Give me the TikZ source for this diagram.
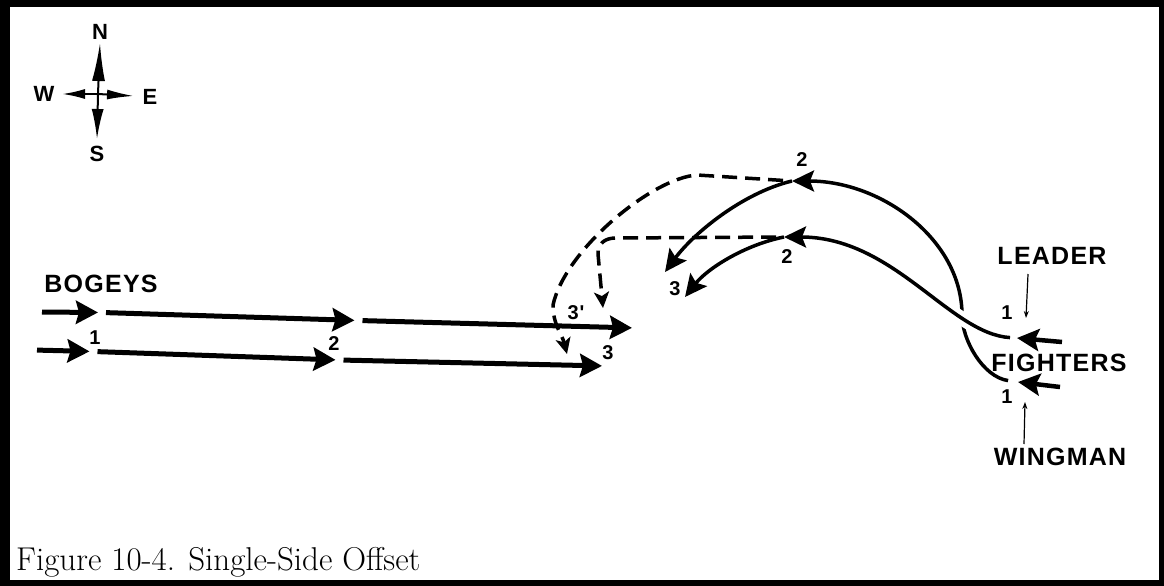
\documentclass[tikz,border=0pt]{standalone}
\usepackage{fontspec}
\newfontfamily\lblfont[LetterSpace=5]{Liberation Sans}
\usepackage{tikz}
\usetikzlibrary{arrows.meta,positioning,calc}

\begin{document}
\begin{tikzpicture}[x=1pt, y=-1pt, line join=round,
      lbl/.style={font=\lblfont\bfseries\fontsize{25}{25}\selectfont, inner sep=0pt},
      num/.style={font=\lblfont\bfseries\fontsize{20}{20}\selectfont, inner sep=0pt},
      pole/.style={font=\lblfont\bfseries\fontsize{22}{22}\selectfont, inner sep=0pt},
      needle/.style={line width=2pt},
      bogey/.style={line width=5pt, shorten >=4pt, shorten <=4pt, -{Stealth[length=22pt,width=23pt,inset=3pt]}},
      jet/.style={line width=3.5pt, -{Stealth[length=22pt,width=21pt,inset=4pt]}},
      fighter/.style={line width=4.5pt, -{Stealth[length=22pt,width=22pt,inset=4pt]}},
      feint/.style={line width=3.5pt, dash pattern=on 15pt off 8pt, -{Stealth[length=16pt,width=15pt,inset=4pt]}},
      hint/.style={line width=1.2pt, -{Stealth[length=7pt,width=5pt]}}]
      \fill[black] (0,0) rectangle (1164,586);
      \fill[white] (10,7) rectangle (1159,580);

      \coordinate (hub) at (98,94);
      \coordinate (tipN) at (100,43);
      \coordinate (tipS) at (97,139);
      \coordinate (tipE) at (134,96);
      \coordinate (tipW) at (62,94);
      \draw[needle,-{Latex[length=38pt,width=13pt]}] (hub) -- (tipN);
      \draw[needle,-{Latex[length=30pt,width=12pt]}] (hub) -- (tipS);
      \draw[needle,-{Latex[length=27pt,width=10pt]}] (hub) -- (tipE);
      \draw[needle,-{Latex[length=23pt,width=10pt]}] (hub) -- (tipW);
      \node[pole] at (100,32)  (north) {N};
      \node[pole] at (97,154)  (south) {S};
      \node[pole] at (150,97)  (east) {E};
      \node[pole] at (44,94)   (west) {W};

      \node[lbl] at (101,284) (bogeys) {BOGEYS};
      \coordinate (t0) at (38,312);
      \coordinate (t1) at (102,312.5);
      \coordinate (t2) at (358.5,320.5);
      \coordinate (t3) at (636,328);
      \coordinate (b0) at (33,350);
      \coordinate (b1) at (93.5,351.5);
      \coordinate (b2) at (339.5,360);
      \coordinate (b3) at (606,366);
      \foreach \a/\b in {t0/t1,t1/t2,t2/t3,b0/b1,b1/b2,b2/b3}
        \draw[bogey] (\a) -- (\b);
      \node[num] at (95,338)  (bog1) {1};
      \node[num] at (334,344) (bog2) {2};
      \node[num] at (608,353) (bog3) {3};
      \node[num] at (576,313) (bog3p) {3'};

      \coordinate (ldr) at (1017,338);
      \coordinate (wng) at (1018,382);
      \coordinate (up2) at (792,181);
      \coordinate (lo2) at (784,237);
      \coordinate (wmid) at (962,315);
      \draw[fighter] (1062,342) -- (ldr);
      \draw[fighter] (1060,387) -- (wng);
      \draw[jet, shorten <=10pt] (wng) .. controls +(-35,-5) and +(0,25) .. (wmid)
        .. controls +(0,-75) and +(90,0) .. (up2);
      \draw[jet, shorten <=7pt, preaction={draw=white, line width=14pt, arrows=-}]
        (ldr) .. controls +(-67,-4) and +(110,0) .. (lo2);

      \coordinate (up3) at (665,272);
      \coordinate (lo3) at (685,297);
      \draw[jet] (up2) .. controls +(-50,12) and +(28,-38) .. (up3);
      \draw[jet] (lo2) .. controls +(-40,8) and +(22,-28) .. (lo3);

      \coordinate (bendU) at (697,175);
      \coordinate (dropU) at (553,305);
      \coordinate (hitU) at (567,354);
      \coordinate (bendL) at (616,238);
      \coordinate (dropL) at (598,254);
      \coordinate (hitL) at (603,308);
      \draw[feint, shorten <=9pt] (up2) -- (bendU) .. controls +(-45,3) and +(12,-55) .. (dropU)
        .. controls +(0,20) and +(-5,-20) .. (hitU);
      \draw[feint, shorten <=8pt] (lo2) -- (bendL) .. controls +(-12,0) and +(0,-10) .. (dropL) -- (hitL);

      \node[num] at (802,160) (up2lbl) {2};
      \node[num] at (787,257) (lo2lbl) {2};
      \node[num] at (675,289) (jet3) {3};

      \node[lbl] at (1052,256) (leader) {LEADER};
      \node[lbl] at (1059,363) (fighters) {FIGHTERS};
      \node[lbl] at (1060,457) (wingman) {WINGMAN};
      \node[num] at (1007,313) (ldr1) {1};
      \node[num] at (1007,397) (wng1) {1};
      \coordinate (ldrpt) at (1026,318);
      \coordinate (wngpt) at (1025,402);
      \draw[hint] (1028,274) -- (ldrpt);
      \draw[hint] (1024,444) -- (wngpt);

      \node[anchor=base west, inner sep=0pt, font=\fontsize{33}{33}\selectfont] at (16,570) (caption) {Figure 10-4. Single-Side Offset};
    \end{tikzpicture}
\end{document}
